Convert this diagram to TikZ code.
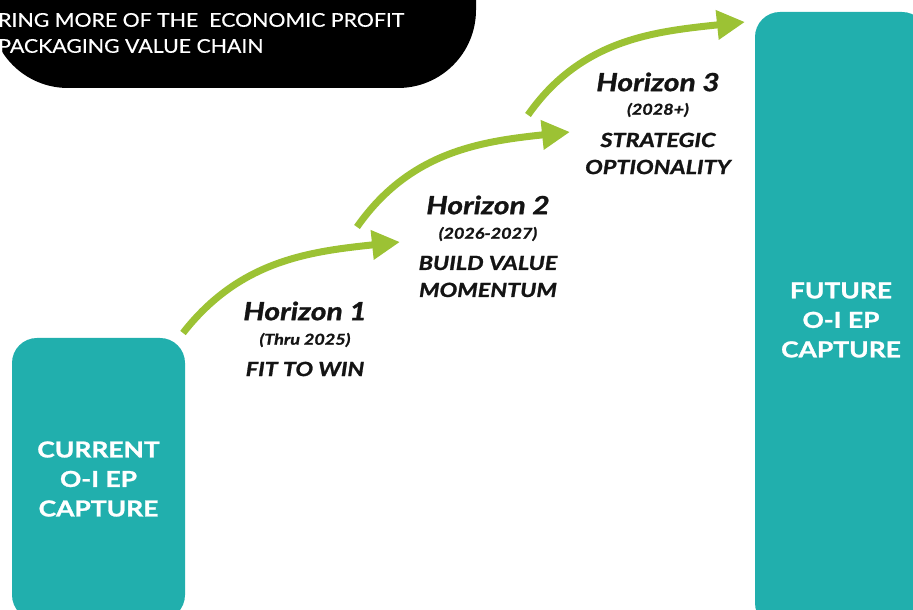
\documentclass[tikz,border=0pt]{standalone}
\usepackage{fontspec}
\setmainfont{Lato}
\newfontfamily\widefont[FakeStretch=1.2,FakeBold=1.2]{Lato}
\newfontfamily\banfont[FakeStretch=1.12,FakeBold=0.4]{Lato}
\usetikzlibrary{arrows.meta}
\definecolor{teal1}{RGB}{33,175,173}
\definecolor{lime1}{RGB}{156,194,52}
\definecolor{ink}{RGB}{20,20,20}
\begin{document}
\begin{tikzpicture}[x=1pt,y=1pt,
 capbox/.style={fill=teal1, rounded corners=25pt, text=white, font=\widefont\fontsize{22}{29.5}\selectfont\bfseries, align=center, inner sep=0pt},
 hz/.style={text=ink, font=\widefont\fontsize{25}{30}\selectfont\bfseries\itshape, inner sep=0pt},
 yr/.style={text=ink, font=\widefont\fontsize{15}{18}\selectfont\bfseries\itshape, inner sep=0pt},
 tag/.style={text=ink, font=\widefont\fontsize{19.5}{27}\selectfont\bfseries\itshape, align=center, inner sep=0pt},
 bantext/.style={text=white, font=\banfont\fontsize{19}{26}\selectfont, anchor=west, inner sep=0pt},
 growarrow/.style={draw=lime1, line width=7pt, -{Triangle[length=28pt,width=28pt]}}
]
\useasboundingbox (0,0) rectangle (913,610);
% banner
\fill[black, rounded corners=78pt] (-10,720) rectangle (476,522);
\node[bantext] (ban1) at (-2,590) {RING MORE OF THE\ \ ECONOMIC PROFIT};
\node[bantext] (ban2) at (-2,564) {PACKAGING VALUE CHAIN};
% boxes
\node[capbox, minimum width=173pt, minimum height=282pt] (cur) at (98.5,131) {CURRENT\\O-I EP\\CAPTURE};
\node[capbox, minimum width=172pt, minimum height=616pt] (fut) at (841,290) {FUTURE\\O-I EP\\CAPTURE};
% arrows
\coordinate (a1s) at (183,277);
\coordinate (a1e) at (400,368);
\coordinate (a2s) at (357,383);
\coordinate (a2e) at (570,478);
\coordinate (a3s) at (528,495);
\coordinate (a3e) at (745,588);
\draw[growarrow] (a1s) to[out=52,in=186] (a1e);
\draw[growarrow] (a2s) to[out=55,in=186] (a2e);
\draw[growarrow] (a3s) to[out=55,in=186] (a3e);
% horizon 1
\node[hz] (h1) at (305,299) {Horizon 1};
\node[yr] (y1) at (305,270) {(Thru 2025)};
\node[tag] (t1) at (305,241) {FIT TO WIN};
% horizon 2
\node[hz] (h2) at (488,405) {Horizon 2};
\node[yr] (y2) at (488,376) {(2026-2027)};
\node[tag] (t2) at (488,333.5) {BUILD VALUE\\MOMENTUM};
% horizon 3
\node[hz] (h3) at (658,528) {Horizon 3};
\node[yr] (y3) at (658,500) {(2028+)};
\node[tag] (t3) at (658,456.5) {STRATEGIC\\OPTIONALITY};
\end{tikzpicture}
\end{document}
